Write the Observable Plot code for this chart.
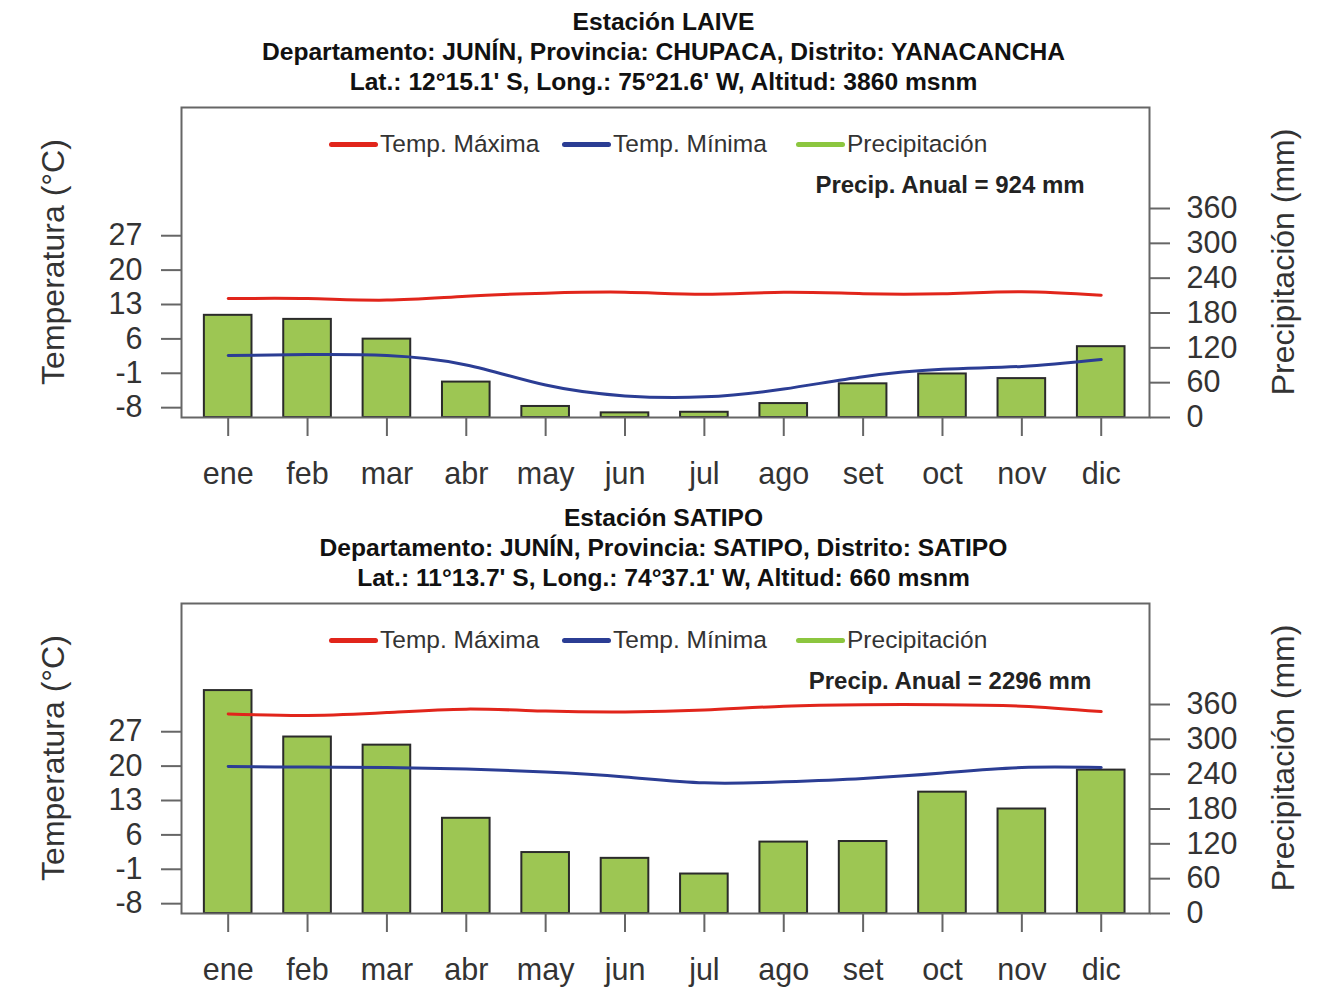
<!DOCTYPE html>
<html><head><meta charset="utf-8">
<script src="https://cdn.jsdelivr.net/npm/d3@7"></script>
<script src="https://cdn.jsdelivr.net/npm/@observablehq/plot@0.6"></script>
<style>
html,body{margin:0;padding:0;background:#fff;overflow:hidden;}
body{width:1322px;height:988px;font-family:"Liberation Sans",Arial,sans-serif;}
.panel{position:relative;width:1322px;height:496px;}
.title{position:absolute;left:0;top:7px;width:1322px;text-align:center;font-weight:bold;font-size:24.6px;line-height:30px;color:#111;padding-left:5px;box-sizing:border-box;}
.svgwrap{position:absolute;left:0;top:97px;}
.ylab{position:absolute;font-size:32px;color:#333;white-space:nowrap;line-height:32px;transform:translate(-50%,-50%) rotate(-90deg);}
.leg{position:absolute;font-size:24.5px;color:#333;line-height:24px;white-space:nowrap;}
.sw{position:absolute;height:5px;border-radius:3px;}
.annual{position:absolute;font-size:24px;font-weight:bold;color:#222;white-space:nowrap;line-height:24px;transform:translate(-50%,-50%);}
</style>
</head><body>
<div id="root"></div>
<script>
// ---- data ----
const months = ["ene","feb","mar","abr","may","jun","jul","ago","set","oct","nov","dic"];
const tempTicks = [-8, -1, 6, 13, 20, 27];
const precipTicks = [0, 60, 120, 180, 240, 300, 360];
const tempDomain = [-10, 53.1];
const precipDomain = [0, 534];

const laiveTitle = ["Estación LAIVE", "Departamento: JUNÍN, Provincia: CHUPACA, Distrito: YANACANCHA", "Lat.: 12°15.1' S, Long.: 75°21.6' W, Altitud: 3860 msnm"];
const laiveAnnual = "Precip. Anual = 924 mm";
const laiveTmax = [14.2, 14.2, 13.9, 14.7, 15.3, 15.5, 15.1, 15.5, 15.2, 15.2, 15.6, 14.9];
const laiveTmin = [2.6, 2.8, 2.6, 0.7, -3.4, -5.6, -5.8, -4.2, -1.7, -0.2, 0.4, 1.8];
const laivePrecip = [176, 169, 135, 61, 19, 8, 9, 24, 58, 75, 67, 122];

const satipoTitle = ["Estación SATIPO", "Departamento: JUNÍN, Provincia: SATIPO, Distrito: SATIPO", "Lat.: 11°13.7' S, Long.: 74°37.1' W, Altitud: 660 msnm"];
const satipoAnnual = "Precip. Anual = 2296 mm";
const satipoTmax = [30.6, 30.3, 30.9, 31.6, 31.2, 31.0, 31.4, 32.2, 32.5, 32.5, 32.2, 31.1];
const satipoTmin = [19.9, 19.8, 19.7, 19.4, 18.8, 17.8, 16.6, 16.8, 17.5, 18.6, 19.7, 19.7];
const satipoPrecip = [384, 304, 290, 164, 105, 95, 68, 123, 124, 209, 180, 247];

const legendItems = [
  {label: "Temp. Máxima", color: "#e1251b"},
  {label: "Temp. Mínima", color: "#2b3d94"},
  {label: "Precipitación", color: "#8cc63f"}
];

const FONT = '"Liberation Sans", Arial, sans-serif';

function chart(tmax, tmin, pp) {
  const rows = months.map((m, i) => ({m, tmax: tmax[i], tmin: tmin[i], pp: pp[i]}));
  const pToT = d3.scaleLinear(precipDomain, tempDomain);
  const axisStyle = {stroke: "#666", strokeWidth: 2, fill: "#333", fontSize: 30.5, label: null};
  return Plot.plot({
    width: 1322, height: 399,
    marginTop: 10, marginBottom: 79, marginLeft: 181, marginRight: 173,
    style: {fontFamily: FONT, fontSize: "30px", color: "#333", background: "transparent", overflow: "visible"},
    x: {type: "band", domain: months, paddingInner: 0.4, paddingOuter: 0.2, insetLeft: 7, insetRight: 8.6, round: false},
    y: {domain: tempDomain},
    marks: [
      Plot.barY(rows, {x: "m", y1: tempDomain[0], y2: d => pToT(d.pp), fill: "#9dc653", stroke: "#2b2b2b", strokeWidth: 2}),
      Plot.line(rows, {x: "m", y: "tmax", stroke: legendItems[0].color, strokeWidth: 3, curve: "natural"}),
      Plot.line(rows, {x: "m", y: "tmin", stroke: legendItems[1].color, strokeWidth: 3, curve: "natural"}),
      Plot.frame({stroke: "#666", strokeWidth: 2}),
      Plot.axisY({anchor: "left", ticks: tempTicks, tickFormat: d => String(d), tickSize: 20, tickPadding: 19, ...axisStyle}),
      Plot.axisY({anchor: "right", ticks: precipTicks.map(v => pToT(v)), tickFormat: d => String(Math.round(pToT.invert(d))), tickSize: 20, tickPadding: 17, ...axisStyle}),
      Plot.axisX({anchor: "bottom", tickSize: 19, tickPadding: 26, ...axisStyle})
    ]
  });
}

function panel(titleLines, annual, tmax, tmin, pp) {
  const p = document.createElement("div");
  p.className = "panel";
  const t = document.createElement("div");
  t.className = "title";
  t.innerHTML = titleLines.map(s => `<div>${s}</div>`).join("");
  p.appendChild(t);
  const w = document.createElement("div");
  w.className = "svgwrap";
  w.appendChild(chart(tmax, tmin, pp));
  p.appendChild(w);
  // axis titles
  const yl = document.createElement("div");
  yl.className = "ylab"; yl.style.left = "53px"; yl.style.top = "261.5px";
  yl.textContent = "Temperatura (°C)";
  p.appendChild(yl);
  const yr = document.createElement("div");
  yr.className = "ylab"; yr.style.left = "1283px"; yr.style.top = "261.5px";
  yr.textContent = "Precipitación (mm)";
  p.appendChild(yr);
  // legend
  const swX = [329, 562, 796];
  legendItems.forEach((it, i) => {
    const s = document.createElement("div");
    s.className = "sw";
    s.style.left = swX[i] + "px"; s.style.top = "141.5px"; s.style.width = "49px";
    s.style.background = it.color;
    p.appendChild(s);
    const l = document.createElement("div");
    l.className = "leg";
    l.style.left = (swX[i] + 51) + "px"; l.style.top = "132px";
    l.textContent = it.label;
    p.appendChild(l);
  });
  const a = document.createElement("div");
  a.className = "annual";
  a.style.left = "950px"; a.style.top = "185px";
  a.textContent = annual;
  p.appendChild(a);
  return p;
}

const root = document.getElementById("root");
root.appendChild(panel(laiveTitle, laiveAnnual, laiveTmax, laiveTmin, laivePrecip));
root.appendChild(panel(satipoTitle, satipoAnnual, satipoTmax, satipoTmin, satipoPrecip));
</script>
</body></html>
